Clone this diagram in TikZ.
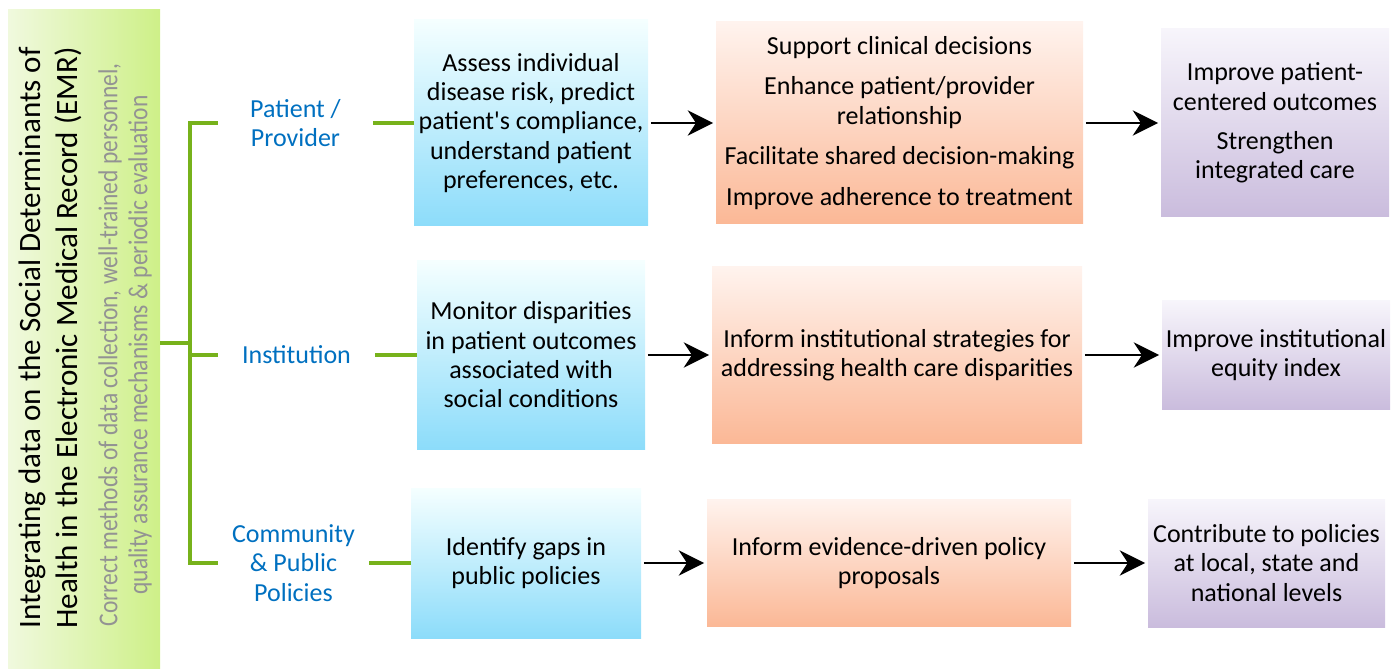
\documentclass[tikz,border=0pt]{standalone}
\usepackage{fontspec}
\setmainfont{Carlito}
\newfontfamily\condfont[FakeStretch=0.86]{Carlito}
\usepackage{tikz}
\usetikzlibrary{arrows.meta, positioning, calc}
\definecolor{emrgreen}{HTML}{77B21B}
\definecolor{lblblue}{HTML}{0070C0}
\definecolor{subgray}{HTML}{939393}

\begin{document}
\begin{tikzpicture}[x=0.75pt, y=-0.75pt,
      box/.style={inner sep=0pt, align=center, text=black,
                  font=\fontsize{19.5}{22}\selectfont},
      bluebox/.style={box, top color=cyan!4!white, bottom color={rgb,255:red,140;green,220;blue,250}},
      orgbox/.style={box, top color={rgb,255:red,255;green,243;blue,238}, bottom color={rgb,255:red,251;green,184;blue,150}},
      purbox/.style={box, top color={rgb,255:red,247;green,245;blue,251}, bottom color={rgb,255:red,202;green,188;blue,221}},
      lbl/.style={inner sep=0pt, minimum height=20pt, align=center, text=lblblue,
                  font=\fontsize{19.5}{22}\selectfont},
      brace/.style={emrgreen, line width=2.3pt},
      arr/.style={-{Stealth[length=19pt, width=19pt]}, line width=2.2pt, black,
                  shorten <=2pt, shorten >=2pt}
    ]
      \useasboundingbox (0,0) rectangle (1393,670);

      % left banner
      \node[inner sep=0pt, minimum width=114pt, minimum height=493.5pt,
            left color={rgb,255:red,240;green,249;blue,222},
            right color={rgb,255:red,206;green,240;blue,136}] (emr) at (84,339) {};
      \node[rotate=90, align=center, font=\fontsize{23.3}{27.75}\selectfont] (title) at (50.5,338)
        {Integrating data on the Social Determinants of\\Health in the Electronic Medical Record (EMR)};
      \node[rotate=90, align=center, text=subgray, font=\condfont\fontsize{20.5}{22.5}\selectfont] (sub) at (125,345)
        {Correct methods of data collection, well-trained personnel,\\quality assurance mechanisms \& periodic evaluation};

      % levels
      \node[lbl, minimum width=116.25pt] (pp) at (295.5,123) {Patient /\\Provider};
      \node[lbl, minimum width=117.75pt] (inst) at (296.5,355) {Institution};
      \node[lbl, minimum width=113.25pt] (comm) at (293.5,563) {Community\\\& Public\\Policies};

      % uses of the data
      \node[bluebox, minimum width=175.5pt, minimum height=154.5pt] (use1) at (531,123)
        {Assess individual\\disease risk, predict\\patient\textquotesingle s compliance,\\understand patient\\preferences, etc.};
      \node[bluebox, minimum width=171pt, minimum height=141pt] (use2) at (531,355)
        {Monitor disparities\\in patient outcomes\\associated with\\social conditions};
      \node[bluebox, minimum width=172.5pt, minimum height=112.5pt] (use3) at (526,563)
        {Identify gaps in\\public policies};

      \node[orgbox, minimum width=275.25pt, minimum height=151.5pt] (act1) at (899.5,123)
        {Support clinical decisions\\[8.5pt]Enhance patient/provider\\relationship\\[8.5pt]Facilitate shared decision-making\\[8.5pt]Improve adherence to treatment};
      \node[orgbox, minimum width=277.5pt, minimum height=132pt] (act2) at (897,355)
        {Inform institutional strategies for\\addressing health care disparities};
      \node[orgbox, minimum width=273pt, minimum height=95.25pt] (act3) at (889,563)
        {Inform evidence-driven policy\\proposals};

      \node[purbox, minimum width=171pt, minimum height=141pt] (out1) at (1275,123)
        {Improve patient-\\centered outcomes\\[7.5pt]Strengthen\\integrated care};
      \node[purbox, minimum width=171pt, minimum height=81pt] (out2) at (1276,355)
        {Improve institutional\\equity index};
      \node[purbox, minimum width=177.75pt, minimum height=96pt] (out3) at (1266.5,563)
        {Contribute to policies\\at local, state and\\national levels};

      % green bracket
      \coordinate (fork) at (190,343);
      \coordinate (top) at (190,123);
      \coordinate (mid) at (190,355);
      \coordinate (bot) at (190,563);
      \draw[brace] (emr.east |- fork) -- (fork);
      \draw[brace] (pp.west) -- (top) -- (bot) -- (comm.west);
      \draw[brace] (mid) -- (inst.west);
      \draw[brace] (pp.east) -- (use1.west);
      \draw[brace] (inst.east) -- (use2.west);
      \draw[brace] (comm.east) -- (use3.west);

      \draw[arr] (use1) -- (act1);
      \draw[arr] (use2) -- (act2);
      \draw[arr] (use3) -- (act3);
      \draw[arr] (act1) -- (out1);
      \draw[arr] (act2) -- (out2);
      \draw[arr] (act3) -- (out3);
    \end{tikzpicture}
\end{document}
